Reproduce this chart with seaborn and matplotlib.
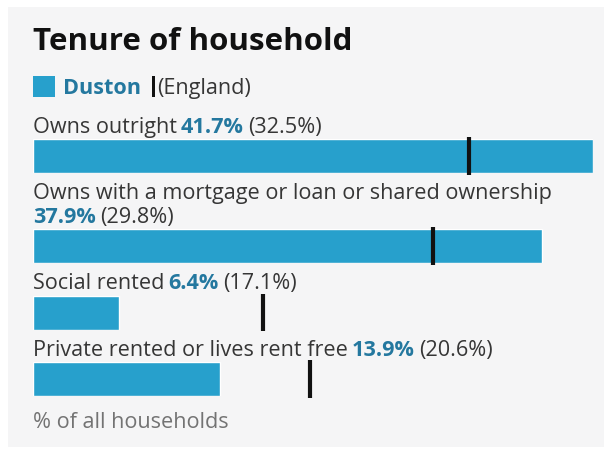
import matplotlib
matplotlib.use('Agg')
import matplotlib.pyplot as plt
import seaborn as sns
import pandas as pd
from matplotlib.patches import Rectangle

#=====DATA=====
title = "Tenure of household"
area_name = "Duston"
compare_name = "(England)"
categories = ["Owns outright",
              "Owns with a mortgage or loan or shared ownership",
              "Social rented",
              "Private rented or lives rent free"]
duston = [41.7, 37.9, 6.4, 13.9]
england = [32.5, 29.8, 17.1, 20.6]
footer = "% of all households"

#=====STYLE=====
sns.set_theme(style="white")
plt.rcParams['font.family'] = ['Open Sans', 'DejaVu Sans']
BLUE = "#27a0cc"
VAL_BLUE = "#24789f"
TXT = "#363636"
FOOT = "#737373"
PANEL = "#f5f5f6"

W, H = 610, 452
fig = plt.figure(figsize=(W / 100, H / 100), dpi=100)
fig.patch.set_facecolor("white")


def fx(x):
    return x / W


def fy(y):
    return 1 - y / H


# grey panel behind everything
fig.patches.append(Rectangle((fx(8), fy(448)), fx(596), 440 / H,
                             transform=fig.transFigure, facecolor=PANEL,
                             edgecolor="none", zorder=-5))

LEFT = 33
BAR_W = 560
BAR_H = 34
LINE = 23.5
FS = 15.6


def draw_parts(parts, x, y):
    # text pieces one after another on the same baseline
    renderer = fig.canvas.get_renderer()
    cur_x = x
    for s, color, weight in parts:
        t = fig.text(fx(cur_x), fy(y), s, color=color, fontweight=weight,
                     fontsize=FS, va="baseline", ha="left")
        bb = t.get_window_extent(renderer=renderer)
        cur_x += bb.width + 4


# title and legend
fig.text(fx(LEFT), fy(50), title, fontsize=22.5, fontweight="bold",
         color="#111111", va="baseline", ha="left")
fig.patches.append(Rectangle((fx(LEFT), fy(98)), fx(22), 21 / H,
                             transform=fig.transFigure, facecolor=BLUE,
                             edgecolor="none"))
fig.text(fx(63), fy(94), area_name, fontsize=FS, fontweight="bold",
         color=VAL_BLUE, va="baseline", ha="left")
fig.patches.append(Rectangle((fx(152), fy(98)), fx(3), 21 / H,
                             transform=fig.transFigure, facecolor="#111111",
                             edgecolor="none"))
fig.text(fx(157), fy(94), compare_name, fontsize=FS, color=TXT,
         va="baseline", ha="left")

#=====BARS=====
xmax = max(duston)
top = 140
for i, (cat, d, e) in enumerate(zip(categories, duston, england)):
    val = f"{d}%"
    cmp = f"({e}%)"
    wrap = len(cat) + len(val) + len(cmp) > 55
    if wrap:
        draw_parts([(cat, TXT, "normal")], LEFT, top - 7 - LINE)
        draw_parts([(val, VAL_BLUE, "bold"), (cmp, TXT, "normal")], LEFT, top - 7)
    else:
        draw_parts([(cat, TXT, "normal"), (val, VAL_BLUE, "bold"),
                    (cmp, TXT, "normal")], LEFT, top - 7)

    ax = fig.add_axes([fx(LEFT), fy(top + BAR_H), fx(BAR_W), BAR_H / H])
    df = pd.DataFrame({"cat": [cat], "value": [d]})
    sns.barplot(data=df, x="value", y="cat", orient="h", color=BLUE,
                width=1, saturation=1, ax=ax)
    ax.vlines(e, -0.55, 0.55, color="#111111", lw=3, clip_on=False, zorder=5)
    ax.set_xlim(0, xmax)
    ax.set_ylim(0.5, -0.5)
    ax.axis("off")

    lines = 2 if (i + 1 < len(categories) and
                  len(categories[i + 1]) + 14 > 55) else 1
    last_bottom = top + BAR_H
    top = top + BAR_H + 9 + LINE * lines

fig.text(fx(LEFT), fy(last_bottom + 31), footer, fontsize=FS, color=FOOT,
         va="baseline", ha="left")

fig.savefig("out.png", dpi=100)
